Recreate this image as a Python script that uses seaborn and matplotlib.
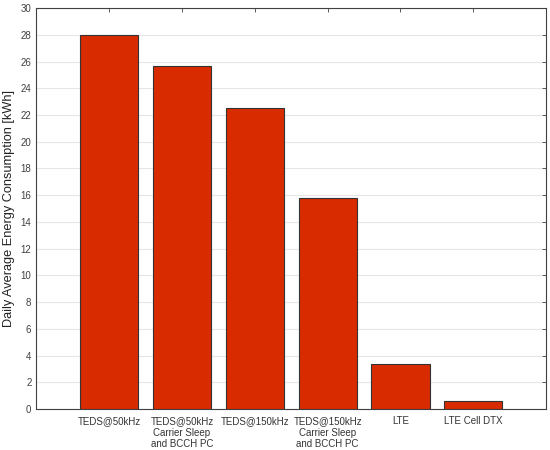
import matplotlib
matplotlib.use("Agg")
import matplotlib.pyplot as plt
import pandas as pd
import seaborn as sns

categories = [
    "TEDS@50kHz",
    "TEDS@50kHz\nCarrier Sleep\nand BCCH PC",
    "TEDS@150kHz",
    "TEDS@150kHz\nCarrier Sleep\nand BCCH PC",
    "LTE",
    "LTE Cell DTX",
]
energy_kwh = [28.0, 25.7, 22.5, 15.8, 3.4, 0.6]
y_ticks = list(range(0, 31, 2))

df = pd.DataFrame({"scheme": categories, "energy": energy_kwh})

sns.set_style("white")
plt.rcParams["font.family"] = ["Liberation Sans", "DejaVu Sans"]

fig = plt.figure(figsize=(5.5, 4.5), dpi=100)
ax = fig.add_axes([0.066, 0.091, 0.927, 0.891])

sns.barplot(
    data=df, x="scheme", y="energy", color="#D92B00", saturation=1,
    width=0.8, edgecolor="#333333", linewidth=0.8, ax=ax, zorder=3,
)

ax.set_xlim(-1, 6)
ax.set_ylim(0, 30)
ax.set_yticks(y_ticks)
ax.yaxis.grid(True, color="#e6e6e6", linewidth=0.8, zorder=0)
ax.set_axisbelow(True)
ax.set_xlabel("")
ax.set_ylabel("Daily Average Energy Consumption [kWh]", fontsize=9.2, color="#222222")
ax.tick_params(axis="both", labelsize=7, colors="#404040", direction="in",
               length=3, width=0.6, top=True, right=True)
ax.tick_params(axis="x", pad=5)
for lab in ax.get_xticklabels():
    lab.set_color("#333333")
    lab.set_linespacing(1.2)
for s in ax.spines.values():
    s.set_color("#404040")
    s.set_linewidth(0.8)
    s.set_visible(True)

fig.savefig("out.png", dpi=100)
